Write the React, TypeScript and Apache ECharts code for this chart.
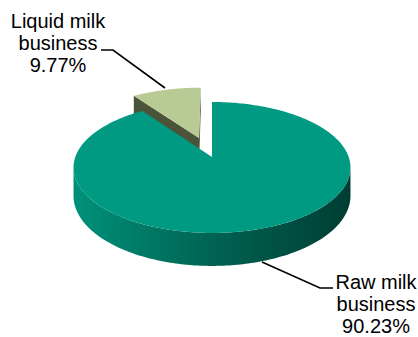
import React, { useEffect, useRef } from "react";
import * as echarts from "echarts";

// ---- data ----
const categories = ["Raw milk\nbusiness", "Liquid milk\nbusiness"];
const values = [90.23, 9.77];

// ---- layout / style (not data) ----
const explode = [0, 0.33];
const topColors = ["#009A82", "#B9CB94"];
const cutColors = ["#00574A", "#4B5338"];
const sideStops = [
  [
    { offset: 0, color: "#00917A" },
    { offset: 0.5, color: "#006352" },
    { offset: 1, color: "#003D34" },
  ],
  [
    { offset: 0, color: "#6E7A52" },
    { offset: 1, color: "#3E4630" },
  ],
];
const labelLayout = [
  { x: 376, y: 304, line: [[262, 262], [320, 288], [333, 288]] },
  { x: 58, y: 43, line: [[101, 50], [113, 50], [165, 88]] },
];

const CX = 212, CY = 157, A = 136.7, B = 63.8, K = 0.16, H = 27.7;

function proj(u: number, v: number, z: number): number[] {
  const w = 1 - K * v;
  return [CX + (A * u) / w, CY + (B * v + H * z) / w];
}

function area(pts: number[][]) {
  let s = 0;
  for (let i = 0; i < pts.length; i++) {
    const a = pts[i], b = pts[(i + 1) % pts.length];
    s += a[0] * b[1] - b[0] * a[1];
  }
  return s / 2;
}

export default function App() {
  const ref = useRef<HTMLDivElement>(null);
  useEffect(() => {
    if (!ref.current) return;
    const chart = echarts.init(ref.current, null, { renderer: "svg" });
    const total = values.reduce((a, b) => a + b, 0);
    const starts: number[] = [];
    let acc = 0;
    values.forEach((v) => {
      starts.push((acc / total) * 360);
      acc += v;
    });

    const renderItem = (params: any, api: any) => {
      const i = params.dataIndex;
      const val = api.value(0);
      const a0 = starts[i];
      const a1 = a0 + (val / total) * 360;
      const mid = ((a0 + a1) / 2) * Math.PI / 180;
      const e = explode[i];
      const du = e * Math.sin(mid), dv = -e * Math.cos(mid);
      const pt = (deg: number, r: number, z: number) => {
        const t = (deg * Math.PI) / 180;
        return proj(du + r * Math.sin(t), dv - r * Math.cos(t), z);
      };
      const arc = (b0: number, b1: number, z: number) => {
        const n = Math.max(2, Math.ceil(Math.abs(b1 - b0)));
        const pts: number[][] = [];
        for (let j = 0; j <= n; j++) pts.push(pt(b0 + ((b1 - b0) * j) / n, 1, z));
        return pts;
      };
      const zBase = i === 0 ? 10 : 1;
      const children: any[] = [];

      // radial cut faces
      const faces = [
        { ang: a0, sign: -1 },
        { ang: a1, sign: 1 },
      ];
      faces.forEach((f) => {
        const q = [pt(f.ang, 0, 0), pt(f.ang, 1, 0), pt(f.ang, 1, 1), pt(f.ang, 0, 1)];
        const ar = area(q);
        if (ar * f.sign > 5) {
          children.push({
            type: "polygon",
            z2: zBase,
            shape: { points: q },
            style: { fill: cutColors[i] },
          });
        }
      });

      // outer side (visible front part)
      const s0 = Math.max(a0, 99.2), s1 = Math.min(a1, 260.8);
      if (s1 > s0) {
        const top = arc(s0, s1, 0);
        const bot = arc(s0, s1, 1).reverse();
        children.push({
          type: "polygon",
          z2: zBase + 1,
          shape: { points: top.concat(bot) },
          style: {
            fill: new echarts.graphic.LinearGradient(0, 0, 1, 0, sideStops[i]),
          },
        });
      }

      // top face
      children.push({
        type: "polygon",
        z2: zBase + 2,
        shape: { points: [pt(0, 0, 0)].concat(arc(a0, a1, 0)) },
        style: { fill: topColors[i] },
      });

      // label
      const lab = labelLayout[i];
      const pct = ((val / total) * 100).toFixed(2) + "%";
      children.push({
        type: "polyline",
        z2: 20,
        shape: { points: lab.line },
        style: { stroke: "#000", lineWidth: 1.6, fill: null },
      });
      children.push({
        type: "text",
        z2: 20,
        x: lab.x,
        y: lab.y,
        style: {
          text: categories[i] + "\n" + pct,
          fontSize: 20,
          fontFamily: "'Liberation Sans', Arial, sans-serif",
          fill: "#000",
          align: "center",
          verticalAlign: "middle",
          lineHeight: 22,
        },
      });

      return { type: "group", children };
    };

    chart.setOption({
      animation: false,
      series: [
        {
          type: "custom",
          coordinateSystem: "none",
          silent: true,
          renderItem,
          data: values.map((v, i) => ({ name: categories[i], value: [v] })),
        },
      ],
    });
    return () => chart.dispose();
  }, []);
  return (
    <div
      ref={ref}
      style={{ position: "fixed", left: 0, top: 0, width: 418, height: 337, background: "#fff" }}
    />
  );
}
